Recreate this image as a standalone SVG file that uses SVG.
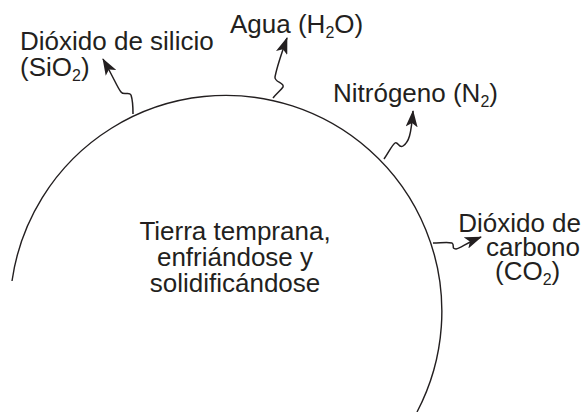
<svg xmlns="http://www.w3.org/2000/svg" width="584" height="412" viewBox="0 0 584 412">
<style>
text{font-family:"Liberation Sans",Arial,sans-serif;font-size:26px;fill:#231f20}
.sub{font-size:16px}
.earth{fill:none;stroke:#231f20;stroke-width:1.4}
.conn{fill:none;stroke:#231f20;stroke-width:1.5;marker-end:url(#ah)}
</style>
<defs>
<marker id="ah" viewBox="0 0 17 12" markerWidth="17" markerHeight="12" markerUnits="userSpaceOnUse" refX="16" refY="6" orient="auto">
<path d="M0,0 L17,6 L0,12 L4,6 Z" fill="#231f20"/>
</marker>
</defs>
<g id="earth">
<path class="earth" d="M12,281 A216,216 0 1 1 417,412"/>
<text text-anchor="middle" x="235" y="240">Tierra temprana,</text>
<text text-anchor="middle" x="235" y="266">enfriándose y</text>
<text text-anchor="middle" x="235" y="292">solidificándose</text>
</g>
<g id="connectors">
<path class="conn" d="M133,114 C133,104 132,98 131,95 C129,91 124,96 121,92 C117,87 115,80 103,59"/>
<path class="conn" d="M273,98 C277,93 281,90 283,87 C285,83 274,82 275,77 C276,72 277,66 287,38"/>
<path class="conn" d="M384,159 C389,152 392,145 395,143 C398,141 399,149 403,146 C409,142 411,135 413,111"/>
<path class="conn" d="M433,243 C440,243 448,242 452,243 C455,245 451,249 456,249 C461,248 466,243 481,237"/>
</g>
<g id="sio2">
<text x="20" y="50">Dióxido de silicio</text>
<text x="20" y="76">(SiO<tspan class="sub" dy="5">2</tspan><tspan dy="-5">)</tspan></text>
</g>
<g id="agua">
<text x="230" y="33">Agua (H<tspan class="sub" dy="5">2</tspan><tspan dy="-5">O)</tspan></text>
</g>
<g id="n2">
<text x="333" y="102">Nitrógeno (N<tspan class="sub" dy="5">2</tspan><tspan dy="-5">)</tspan></text>
</g>
<g id="co2">
<text text-anchor="end" x="581" y="232">Dióxido de</text>
<text text-anchor="end" x="580" y="256">carbono</text>
<text x="495" y="280">(CO<tspan class="sub" dy="5">2</tspan><tspan dy="-5">)</tspan></text>
</g>
</svg>
